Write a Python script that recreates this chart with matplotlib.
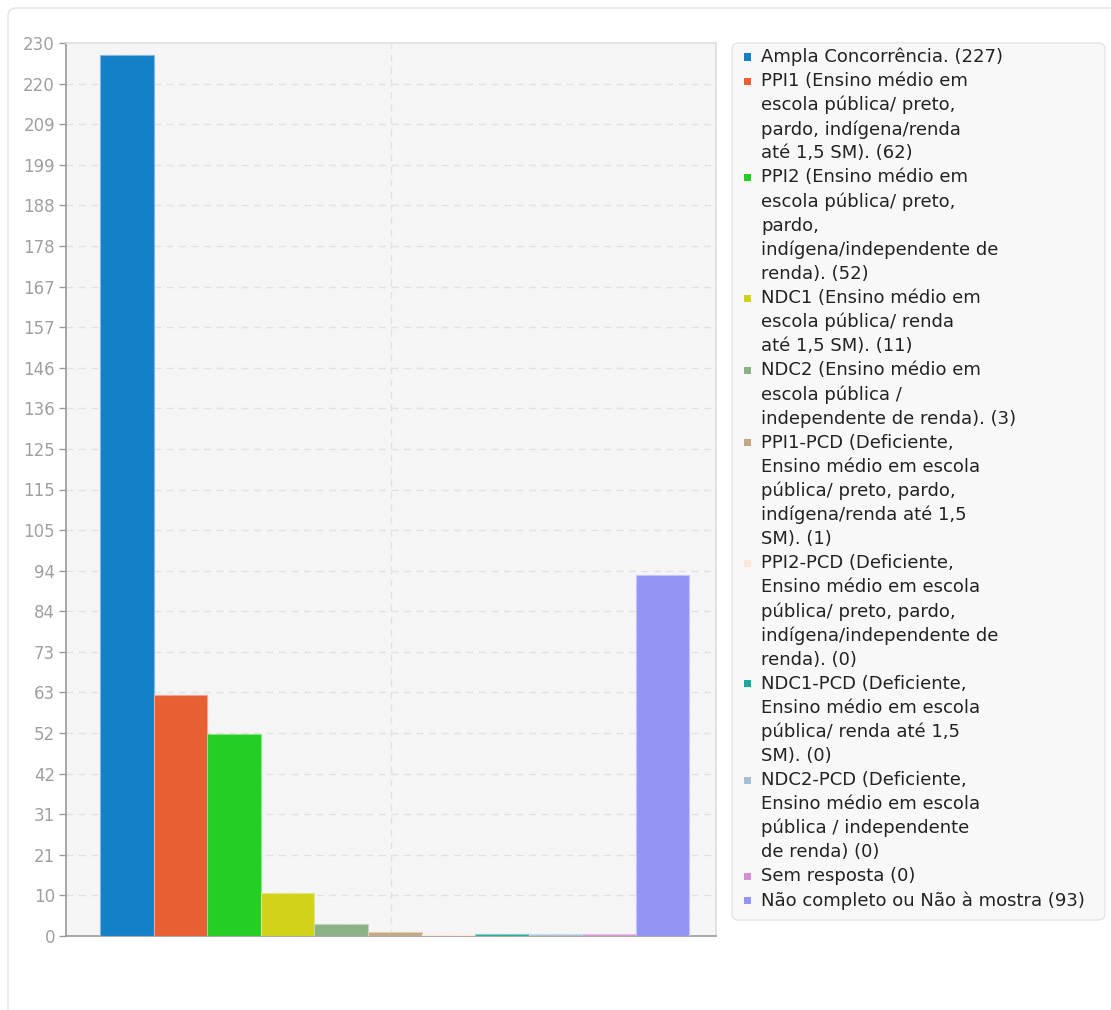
import numpy as np
import matplotlib
matplotlib.use("Agg")
from matplotlib import pyplot as plt
from matplotlib.patches import FancyBboxPatch, Rectangle
from matplotlib.colors import to_rgb

# data
labels = [
    "Ampla Concorrência.",
    "PPI1 (Ensino médio em\nescola pública/ preto,\npardo, indígena/renda\naté 1,5 SM).",
    "PPI2 (Ensino médio em\nescola pública/ preto,\npardo,\nindígena/independente de\nrenda).",
    "NDC1 (Ensino médio em\nescola pública/ renda\naté 1,5 SM).",
    "NDC2 (Ensino médio em\nescola pública /\nindependente de renda).",
    "PPI1-PCD (Deficiente,\nEnsino médio em escola\npública/ preto, pardo,\nindígena/renda até 1,5\nSM).",
    "PPI2-PCD (Deficiente,\nEnsino médio em escola\npública/ preto, pardo,\nindígena/independente de\nrenda).",
    "NDC1-PCD (Deficiente,\nEnsino médio em escola\npública/ renda até 1,5\nSM).",
    "NDC2-PCD (Deficiente,\nEnsino médio em escola\npública / independente\nde renda)",
    "Sem resposta",
    "Não completo ou Não à mostra",
]
values = [227, 62, 52, 11, 3, 1, 0, 0, 0, 0, 93]
colors = ["#1380c8", "#e85f33", "#22cf22", "#d2d21a", "#8ab383", "#c4a883",
          "#fce6da", "#1aab9b", "#a6bfd8", "#d68fd6", "#9494f5"]
yticks = np.linspace(0, 230, 23)

W, H = 1111, 1010
fig = plt.figure(figsize=(W / 100, H / 100), dpi=100)

# outer panel
panel = FancyBboxPatch((8 / W, -0.05), 1.2, 1 - 8 / H + 0.05,
                       boxstyle="round,pad=0,rounding_size=0.008",
                       transform=fig.transFigure, facecolor="white",
                       edgecolor="#e6e6e6", linewidth=1.2, zorder=-5)
fig.patches.append(panel)

plt.rcParams['hatch.color'] = '#eeeeee'
plt.rcParams['hatch.linewidth'] = 0.6

ax = fig.add_axes([66 / W, (H - 936) / H, 650 / W, 893 / H])
ax.set_zorder(2)
ax.patch.set_facecolor("#fafafa")
ax.patch.set_hatch("/" * 10)
ax.patch.set_edgecolor("#eeeeee")

xs = np.arange(len(values))
heights = [max(v, 0.45) for v in values]
edges = [tuple(0.55 * np.array(to_rgb(c)) + 0.45) for c in colors]
ax.bar(xs, heights, width=1.0, color=colors, edgecolor=edges,
       linewidth=0.8, zorder=3)

ax.set_xlim(-0.5 - 0.64, len(values) - 0.5 + 0.5)
ax.set_ylim(0, 230)
ax.set_yticks(yticks)
ax.set_yticklabels([str(int(np.floor(t + 0.5))) for t in yticks])
ax.set_xticks([])
ax.tick_params(axis="y", colors="#999999", labelsize=12, length=5,
               width=1, pad=3)
ax.tick_params(axis="y", labelcolor="#a0a0a0")

for y in yticks[1:-1]:
    ax.axhline(y, color="#e2e2e2", linestyle=(0, (5, 4)), linewidth=1,
               zorder=1)
xmid = sum(ax.get_xlim()) / 2
ax.axvline(xmid, color="#e2e2e2", linestyle=(0, (5, 4)), linewidth=1,
           zorder=1)

for side in ["top", "right"]:
    ax.spines[side].set_color("#dddddd")
    ax.spines[side].set_linewidth(1.2)
for side in ["left", "bottom"]:
    ax.spines[side].set_color("#999999")
    ax.spines[side].set_linewidth(1.2)

# legend drawn by hand
leg = FancyBboxPatch((732 / W, (H - 920) / H), (1105 - 732) / W, (920 - 43) / H,
                     boxstyle="round,pad=0,rounding_size=0.006",
                     transform=fig.transFigure, facecolor="#f8f8f8",
                     edgecolor="#e4e4e4", linewidth=1, zorder=1)
fig.patches.append(leg)

line_h = 24.1
y = 57
for lab, val, col in zip(labels, values, colors):
    lines = (lab + " (%d)" % val).split("\n")
    fig.patches.append(Rectangle(((744) / W, (H - y - 3.5) / H), 7 / W, 7 / H,
                                 transform=fig.transFigure, facecolor=col,
                                 edgecolor="none", zorder=2))
    for ln in lines:
        fig.text(761 / W, (H - y) / H, ln, fontsize=13, color="#222222",
                 va="center", ha="left", zorder=3)
        y += line_h

fig.savefig("out.png", dpi=100)
